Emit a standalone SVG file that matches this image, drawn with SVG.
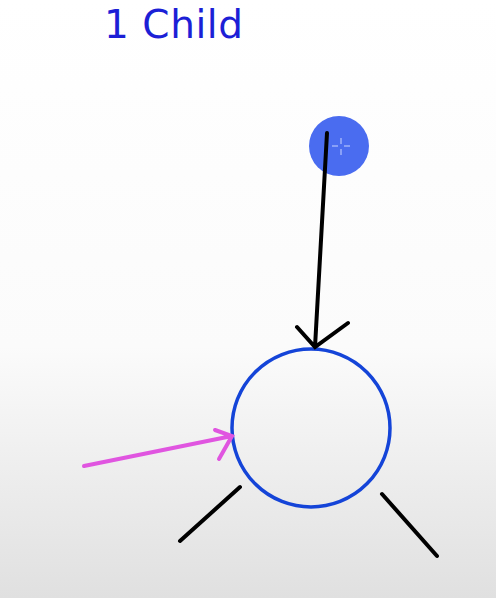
<svg xmlns="http://www.w3.org/2000/svg" width="496" height="598" viewBox="0 0 496 598">
<defs>
<linearGradient id="bg" x1="0" y1="0" x2="0" y2="1">
<stop offset="0" stop-color="#ffffff"/>
<stop offset="0.58" stop-color="#fbfbfb"/>
<stop offset="1" stop-color="#e0e0e0"/>
</linearGradient>
</defs>
<style>
.blk{stroke:#000;stroke-width:4;stroke-linecap:round;fill:none}
.pink{stroke:#e055e0;stroke-width:4;stroke-linecap:round;fill:none}
</style>
<rect width="496" height="598" fill="url(#bg)"/>
<text x="104" y="38" font-family="DejaVu Sans, sans-serif" font-size="39" fill="#1c1fd6" textLength="139" lengthAdjust="spacing">1 Child</text>
<g id="node-circle">
<circle cx="311" cy="428" r="79" fill="none" stroke="#1444d8" stroke-width="3.5"/>
</g>
<g id="node-dot">
<circle cx="339" cy="146" r="30" fill="#4a6cf0"/>
<g stroke="#c8d4ff" stroke-width="1">
<line x1="341" y1="138" x2="341" y2="144"/>
<line x1="341" y1="149" x2="341" y2="155"/>
<line x1="332" y1="146" x2="338" y2="146"/>
<line x1="344" y1="146" x2="350" y2="146"/>
</g>
</g>
<g id="connectors">
<path class="blk" d="M327 133 L315 347 M297 327 L315 347 L348 323"/>
<path class="pink" d="M84 466 L232 436 M215 430 L232 436 L219 459"/>
<path class="blk" d="M180 541 L240 487"/>
<path class="blk" d="M382 494 L437 556"/>
</g>
</svg>
